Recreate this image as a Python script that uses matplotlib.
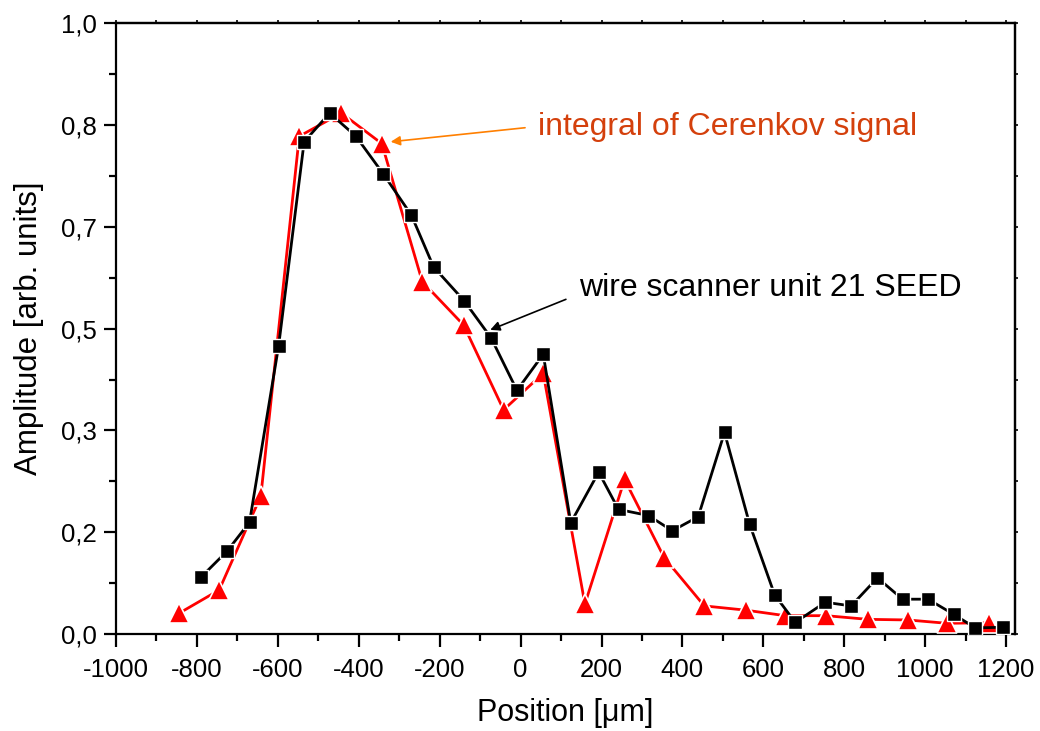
import matplotlib
matplotlib.use("Agg")
import matplotlib.pyplot as plt
from matplotlib.ticker import FixedLocator, MultipleLocator, FuncFormatter

plt.rcParams["font.family"] = ["Liberation Sans", "DejaVu Sans"]
plt.rcParams["axes.unicode_minus"] = False

# wire scanner unit 21 SEED (black squares)
wire_x = [-790, -725, -670, -598, -535, -472, -407, -339, -270, -215, -140, -73,
          -9, 56, 124, 193, 242, 316, 375, 439, 504, 566, 628, 679, 753, 817,
          882, 944, 1007, 1071, 1124, 1192]
wire_y = [0.093, 0.136, 0.183, 0.472, 0.806, 0.853, 0.815, 0.753, 0.686, 0.601,
          0.546, 0.485, 0.399, 0.458, 0.182, 0.265, 0.204, 0.194, 0.169, 0.192,
          0.330, 0.180, 0.064, 0.019, 0.052, 0.046, 0.092, 0.057, 0.057, 0.032,
          0.010, 0.011]

# integral of Cerenkov signal (red triangles)
cer_x = [-844, -745, -642, -547, -443, -343, -243, -141, -42, 56, 159, 257, 355,
         454, 557, 654, 755, 858, 957, 1054, 1157]
cer_y = [0.034, 0.072, 0.226, 0.815, 0.853, 0.803, 0.577, 0.506, 0.367, 0.427,
         0.049, 0.253, 0.125, 0.046, 0.039, 0.030, 0.030, 0.024, 0.023, 0.0175,
         0.0185]

x_ticks = [-1000, -800, -600, -400, -200, 0, 200, 400, 600, 800, 1000, 1200]
y_ticks = [0, 1 / 6, 2 / 6, 3 / 6, 4 / 6, 5 / 6, 1.0]

fig = plt.figure(figsize=(10.4, 7.31), dpi=100)
ax = fig.add_axes([116 / 1040, 1 - 634 / 731, 899 / 1040, 610.7 / 731])

ax.plot(cer_x, cer_y, color="red", lw=2, marker="^", ms=14,
        mfc="red", mec="white", mew=1.2, zorder=3)
ax.plot(wire_x, wire_y, color="black", lw=2, marker="s", ms=10,
        mfc="black", mec="white", mew=1.0, zorder=4)

ax.set_xlim(-1000, 1222)
ax.set_ylim(0, 1.0)

ax.xaxis.set_major_locator(FixedLocator(x_ticks))
ax.xaxis.set_minor_locator(MultipleLocator(100))
ax.yaxis.set_major_locator(FixedLocator(y_ticks))
ax.yaxis.set_minor_locator(MultipleLocator(1 / 12))
ax.yaxis.set_major_formatter(FuncFormatter(lambda v, p: f"{v:.1f}".replace(".", ",")))

for s in ax.spines.values():
    s.set_linewidth(1.6)

ax.tick_params(which="major", direction="out", length=9, width=1.6,
               labelsize=18.5)
ax.tick_params(axis="x", which="major", pad=8)
ax.tick_params(axis="y", which="major", pad=5)
ax.tick_params(which="minor", direction="out", length=5, width=1.6)

# tiny ticks on top and right frame
top = ax.secondary_xaxis("top")
top.xaxis.set_major_locator(FixedLocator(x_ticks))
top.xaxis.set_minor_locator(MultipleLocator(100))
top.tick_params(which="both", direction="out", length=2.5, width=1.2,
                labeltop=False)
right = ax.secondary_yaxis("right")
right.yaxis.set_major_locator(FixedLocator(y_ticks))
right.yaxis.set_minor_locator(MultipleLocator(1 / 12))
right.tick_params(which="both", direction="out", length=2.5, width=1.2,
                  labelright=False)
for sec in (top, right):
    for s in sec.spines.values():
        s.set_linewidth(1.6)

ax.set_xlabel("Position [\u03bcm]", fontsize=22, labelpad=12)
ax.set_ylabel("Amplitude [arb. units]", fontsize=22.5, labelpad=12)

# annotations
ax.annotate("", xy=(-321, 0.806), xytext=(11, 0.829),
            arrowprops=dict(arrowstyle="-|>", color="#ff7f00", lw=1.2,
                            mutation_scale=14, shrinkA=0, shrinkB=0))
ax.text(43, 0.83, "integral of Cerenkov signal", color="#d4400c",
        fontsize=23, va="center", ha="left")

ax.annotate("", xy=(-75, 0.498), xytext=(112, 0.548),
            arrowprops=dict(arrowstyle="-|>", color="black", lw=1.2,
                            mutation_scale=14, shrinkA=0, shrinkB=0))
ax.text(145, 0.567, "wire scanner unit 21 SEED", color="black",
        fontsize=23, va="center", ha="left")

fig.savefig("out.png", dpi=100)
